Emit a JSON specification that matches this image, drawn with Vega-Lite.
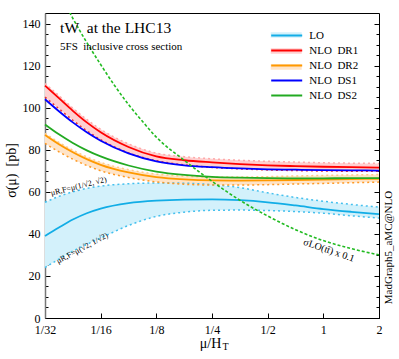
{
  "$schema": "https://vega.github.io/schema/vega-lite/v6.json",
  "width": 334,
  "height": 305,
  "autosize": "none",
  "padding": {"left": 45, "top": 13, "right": 20, "bottom": 41},
  "background": "white",
  "config": {
    "view": {"stroke": "black", "strokeWidth": 1},
    "font": "Liberation Serif",
    "axis": {"labelFont": "Liberation Serif", "titleFont": "Liberation Serif", "titleFontWeight": "normal", "labelColor": "black", "titleColor": "black", "tickColor": "black", "grid": false}
  },
  "datasets": {
    "lines": [
      {"m": 0.03125, "s": "LO", "v": 39}, {"m": 0.03716, "s": "LO", "v": 43}, {"m": 0.04419, "s": "LO", "v": 46.8}, {"m": 0.05256, "s": "LO", "v": 49.8}, {"m": 0.0625, "s": "LO", "v": 52}, {"m": 0.08839, "s": "LO", "v": 54.6}, {"m": 0.125, "s": "LO", "v": 55.8}, {"m": 0.17678, "s": "LO", "v": 56.3}, {"m": 0.25, "s": "LO", "v": 56.4}, {"m": 0.35355, "s": "LO", "v": 56}, {"m": 0.5, "s": "LO", "v": 55}, {"m": 0.70711, "s": "LO", "v": 53.5}, {"m": 1, "s": "LO", "v": 51.8}, {"m": 1.41421, "s": "LO", "v": 50.5}, {"m": 2, "s": "LO", "v": 49.4},
      {"m": 0.03125, "s": "NLO\u00a0 DR1", "v": 110.5}, {"m": 0.03716, "s": "NLO\u00a0 DR1", "v": 104.5}, {"m": 0.04419, "s": "NLO\u00a0 DR1", "v": 98.5}, {"m": 0.05256, "s": "NLO\u00a0 DR1", "v": 93}, {"m": 0.0625, "s": "NLO\u00a0 DR1", "v": 88.3}, {"m": 0.08839, "s": "NLO\u00a0 DR1", "v": 81.3}, {"m": 0.125, "s": "NLO\u00a0 DR1", "v": 76.8}, {"m": 0.17678, "s": "NLO\u00a0 DR1", "v": 75}, {"m": 0.25, "s": "NLO\u00a0 DR1", "v": 74}, {"m": 0.35355, "s": "NLO\u00a0 DR1", "v": 73.2}, {"m": 0.5, "s": "NLO\u00a0 DR1", "v": 72.6}, {"m": 0.70711, "s": "NLO\u00a0 DR1", "v": 72.2}, {"m": 1, "s": "NLO\u00a0 DR1", "v": 71.9}, {"m": 1.41421, "s": "NLO\u00a0 DR1", "v": 71.7}, {"m": 2, "s": "NLO\u00a0 DR1", "v": 71.5},
      {"m": 0.03125, "s": "NLO\u00a0 DR2", "v": 87}, {"m": 0.03716, "s": "NLO\u00a0 DR2", "v": 82.6}, {"m": 0.04419, "s": "NLO\u00a0 DR2", "v": 78.8}, {"m": 0.05256, "s": "NLO\u00a0 DR2", "v": 75.5}, {"m": 0.0625, "s": "NLO\u00a0 DR2", "v": 72.8}, {"m": 0.08839, "s": "NLO\u00a0 DR2", "v": 69.2}, {"m": 0.125, "s": "NLO\u00a0 DR2", "v": 67}, {"m": 0.17678, "s": "NLO\u00a0 DR2", "v": 65.9}, {"m": 0.25, "s": "NLO\u00a0 DR2", "v": 65.4}, {"m": 0.35355, "s": "NLO\u00a0 DR2", "v": 65.3}, {"m": 0.5, "s": "NLO\u00a0 DR2", "v": 65.4}, {"m": 0.70711, "s": "NLO\u00a0 DR2", "v": 65.6}, {"m": 1, "s": "NLO\u00a0 DR2", "v": 65.8}, {"m": 1.41421, "s": "NLO\u00a0 DR2", "v": 66}, {"m": 2, "s": "NLO\u00a0 DR2", "v": 66.2},
      {"m": 0.03125, "s": "NLO\u00a0 DS1", "v": 104}, {"m": 0.03716, "s": "NLO\u00a0 DS1", "v": 98.3}, {"m": 0.04419, "s": "NLO\u00a0 DS1", "v": 93}, {"m": 0.05256, "s": "NLO\u00a0 DS1", "v": 88.3}, {"m": 0.0625, "s": "NLO\u00a0 DS1", "v": 84.3}, {"m": 0.08839, "s": "NLO\u00a0 DS1", "v": 78.3}, {"m": 0.125, "s": "NLO\u00a0 DS1", "v": 74.5}, {"m": 0.17678, "s": "NLO\u00a0 DS1", "v": 72.6}, {"m": 0.25, "s": "NLO\u00a0 DS1", "v": 71.7}, {"m": 0.35355, "s": "NLO\u00a0 DS1", "v": 71.1}, {"m": 0.5, "s": "NLO\u00a0 DS1", "v": 70.7}, {"m": 0.70711, "s": "NLO\u00a0 DS1", "v": 70.5}, {"m": 1, "s": "NLO\u00a0 DS1", "v": 70.3}, {"m": 1.41421, "s": "NLO\u00a0 DS1", "v": 70.2}, {"m": 2, "s": "NLO\u00a0 DS1", "v": 70.1},
      {"m": 0.03125, "s": "NLO\u00a0 DS2", "v": 92}, {"m": 0.03716, "s": "NLO\u00a0 DS2", "v": 87.3}, {"m": 0.04419, "s": "NLO\u00a0 DS2", "v": 83.2}, {"m": 0.05256, "s": "NLO\u00a0 DS2", "v": 79.7}, {"m": 0.0625, "s": "NLO\u00a0 DS2", "v": 76.8}, {"m": 0.08839, "s": "NLO\u00a0 DS2", "v": 72.5}, {"m": 0.125, "s": "NLO\u00a0 DS2", "v": 69.6}, {"m": 0.17678, "s": "NLO\u00a0 DS2", "v": 68}, {"m": 0.25, "s": "NLO\u00a0 DS2", "v": 67.1}, {"m": 0.35355, "s": "NLO\u00a0 DS2", "v": 66.7}, {"m": 0.5, "s": "NLO\u00a0 DS2", "v": 66.5}, {"m": 0.70711, "s": "NLO\u00a0 DS2", "v": 66.4}, {"m": 1, "s": "NLO\u00a0 DS2", "v": 66.4}, {"m": 1.41421, "s": "NLO\u00a0 DS2", "v": 66.5}, {"m": 2, "s": "NLO\u00a0 DS2", "v": 66.5}
    ],
    "bands": [
      {"m": 0.03125, "s": "LO", "lo": 24, "hi": 55}, {"m": 0.03716, "s": "LO", "lo": 28, "hi": 57.8}, {"m": 0.04419, "s": "LO", "lo": 31.8, "hi": 60}, {"m": 0.05256, "s": "LO", "lo": 35, "hi": 61.6}, {"m": 0.0625, "s": "LO", "lo": 38, "hi": 62.7}, {"m": 0.08839, "s": "LO", "lo": 44, "hi": 63.8}, {"m": 0.125, "s": "LO", "lo": 48.3, "hi": 64.2}, {"m": 0.17678, "s": "LO", "lo": 50.3, "hi": 64.1}, {"m": 0.25, "s": "LO", "lo": 51.2, "hi": 63.4}, {"m": 0.35355, "s": "LO", "lo": 51.3, "hi": 62}, {"m": 0.5, "s": "LO", "lo": 51.1, "hi": 59.5}, {"m": 0.70711, "s": "LO", "lo": 50.6, "hi": 57.3}, {"m": 1, "s": "LO", "lo": 49.8, "hi": 55.5}, {"m": 1.41421, "s": "LO", "lo": 48.6, "hi": 54}, {"m": 2, "s": "LO", "lo": 47.5, "hi": 52.7},
      {"m": 0.03125, "s": "NLO\u00a0 DR1", "lo": 105, "hi": 111.5}, {"m": 0.03716, "s": "NLO\u00a0 DR1", "lo": 99.5, "hi": 105.7}, {"m": 0.04419, "s": "NLO\u00a0 DR1", "lo": 94, "hi": 99.8}, {"m": 0.05256, "s": "NLO\u00a0 DR1", "lo": 89, "hi": 94.4}, {"m": 0.0625, "s": "NLO\u00a0 DR1", "lo": 84.8, "hi": 89.7}, {"m": 0.08839, "s": "NLO\u00a0 DR1", "lo": 78.5, "hi": 82.8}, {"m": 0.125, "s": "NLO\u00a0 DR1", "lo": 74.8, "hi": 78.4}, {"m": 0.17678, "s": "NLO\u00a0 DR1", "lo": 72.8, "hi": 76.7}, {"m": 0.25, "s": "NLO\u00a0 DR1", "lo": 71.6, "hi": 75.7}, {"m": 0.35355, "s": "NLO\u00a0 DR1", "lo": 70.9, "hi": 75}, {"m": 0.5, "s": "NLO\u00a0 DR1", "lo": 70.4, "hi": 74.5}, {"m": 0.70711, "s": "NLO\u00a0 DR1", "lo": 70.1, "hi": 74.1}, {"m": 1, "s": "NLO\u00a0 DR1", "lo": 69.9, "hi": 73.8}, {"m": 1.41421, "s": "NLO\u00a0 DR1", "lo": 69.8, "hi": 73.6}, {"m": 2, "s": "NLO\u00a0 DR1", "lo": 69.8, "hi": 73.5},
      {"m": 0.03125, "s": "NLO\u00a0 DR2", "lo": 83, "hi": 87.8}, {"m": 0.03716, "s": "NLO\u00a0 DR2", "lo": 79, "hi": 83.5}, {"m": 0.04419, "s": "NLO\u00a0 DR2", "lo": 75.5, "hi": 79.8}, {"m": 0.05256, "s": "NLO\u00a0 DR2", "lo": 72.5, "hi": 76.6}, {"m": 0.0625, "s": "NLO\u00a0 DR2", "lo": 70, "hi": 74}, {"m": 0.08839, "s": "NLO\u00a0 DR2", "lo": 66.8, "hi": 70.5}, {"m": 0.125, "s": "NLO\u00a0 DR2", "lo": 64.7, "hi": 68.4}, {"m": 0.17678, "s": "NLO\u00a0 DR2", "lo": 63.6, "hi": 67.4}, {"m": 0.25, "s": "NLO\u00a0 DR2", "lo": 63.2, "hi": 67}, {"m": 0.35355, "s": "NLO\u00a0 DR2", "lo": 63.2, "hi": 67}, {"m": 0.5, "s": "NLO\u00a0 DR2", "lo": 63.4, "hi": 67.2}, {"m": 0.70711, "s": "NLO\u00a0 DR2", "lo": 63.7, "hi": 67.5}, {"m": 1, "s": "NLO\u00a0 DR2", "lo": 64, "hi": 67.8}, {"m": 1.41421, "s": "NLO\u00a0 DR2", "lo": 64.3, "hi": 68}, {"m": 2, "s": "NLO\u00a0 DR2", "lo": 64.6, "hi": 68.2}
    ],
    "tt": [
      {"m": 0.04123, "v": 147.5}, {"m": 0.04419, "v": 142.5}, {"m": 0.05256, "v": 131}, {"m": 0.0625, "v": 120.5}, {"m": 0.07433, "v": 110.5}, {"m": 0.08839, "v": 101.5}, {"m": 0.10511, "v": 93.5}, {"m": 0.125, "v": 86}, {"m": 0.17678, "v": 75}, {"m": 0.25, "v": 65}, {"m": 0.35355, "v": 56}, {"m": 0.5, "v": 48.5}, {"m": 0.70711, "v": 42}, {"m": 1, "v": 36.8}, {"m": 1.41421, "v": 33}, {"m": 2, "v": 30}
    ]
  },
  "resolve": {"axis": {"y": "independent"}},
  "layer": [
    {
      "data": {"name": "bands"},
      "mark": {"type": "area", "interpolate": "monotone"},
      "encoding": {
        "x": {
          "field": "m", "type": "quantitative",
          "scale": {"type": "log", "base": 2, "domain": [0.03125, 2], "nice": false},
          "axis": {
            "values": [0.03125, 0.0625, 0.125, 0.25, 0.5, 1, 2],
            "labelExpr": "datum.value < 1 ? '1/' + round(1/datum.value) : '' + round(datum.value)",
            "tickSize": -5, "labelPadding": 11, "labelFontSize": 12, "labelFlush": false,
            "domainColor": "black",
            "title": "μ/H", "titleFontSize": 14, "titleX": 165, "titleY": 29, "titleBaseline": "alphabetic", "titleAlign": "center"
          }
        },
        "y": {
          "field": "lo", "type": "quantitative",
          "scale": {"domain": [0, 145], "nice": false, "zero": false},
          "axis": {
            "values": [0, 5, 10, 15, 20, 25, 30, 35, 40, 45, 50, 55, 60, 65, 70, 75, 80, 85, 90, 95, 100, 105, 110, 115, 120, 125, 130, 135, 140],
            "labelExpr": "datum.value % 20 == 0 ? datum.label : ''",
            "tickSize": {"condition": {"test": "datum.value % 20 == 0", "value": -5}, "value": -3},
            "labelPadding": 10, "labelFontSize": 12,
            "domainColor": "#777777", "domainWidth": 1.5,
            "title": "σ(μ)\u00a0 [pb]", "titleFontSize": 14, "titleX": -34, "titleY": 157, "titleAlign": "center", "titleBaseline": "middle"
          }
        },
        "y2": {"field": "hi"},
        "fill": {
          "field": "s", "type": "nominal",
          "scale": {
            "domain": ["LO", "NLO\u00a0 DR1", "NLO\u00a0 DR2", "NLO\u00a0 DS1", "NLO\u00a0 DS2", "zz"],
            "range": ["#d3f1fb", "#ffd0d0", "#ffe4c8", "rgba(0,0,0,0)", "rgba(0,0,0,0)", "rgba(0,0,0,0)"]
          },
          "legend": {
            "values": ["LO", "NLO\u00a0 DR1", "NLO\u00a0 DR2", "NLO\u00a0 DS1", "NLO\u00a0 DS2"],
            "orient": "none", "legendX": 235.7, "legendY": 16.5, "title": null, "padding": 0,
            "symbolType": "M-3.1,-0.55H3.1V0.55H-3.1Z", "symbolSize": 100, "symbolStrokeWidth": 0,
            "labelColor": "rgba(0,0,0,0)", "labelFontSize": 11, "labelOffset": 16.6, "rowPadding": 4
          }
        }
      }
    },
    {
      "data": {"name": "bands"},
      "transform": [{"filter": "datum.s == 'LO'"}],
      "mark": {"type": "line", "interpolate": "monotone", "strokeDash": [2, 3], "strokeWidth": 1.5, "color": "#45c0ee"},
      "encoding": {"x": {"field": "m", "type": "quantitative"}, "y": {"field": "hi", "type": "quantitative", "axis": null}}
    },
    {
      "data": {"name": "bands"},
      "transform": [{"filter": "datum.s == 'LO'"}],
      "mark": {"type": "line", "interpolate": "monotone", "strokeDash": [2, 3], "strokeWidth": 1.5, "color": "#45c0ee"},
      "encoding": {"x": {"field": "m", "type": "quantitative"}, "y": {"field": "lo", "type": "quantitative", "axis": null}}
    },
    {
      "data": {"name": "bands"},
      "transform": [{"filter": "datum.s == 'NLO\u00a0 DR1'"}],
      "mark": {"type": "line", "interpolate": "monotone", "strokeDash": [2, 3], "strokeWidth": 1.5, "color": "#ffaaaa"},
      "encoding": {"x": {"field": "m", "type": "quantitative"}, "y": {"field": "hi", "type": "quantitative", "axis": null}}
    },
    {
      "data": {"name": "bands"},
      "transform": [{"filter": "datum.s == 'NLO\u00a0 DR1'"}],
      "mark": {"type": "line", "interpolate": "monotone", "strokeDash": [2, 3], "strokeWidth": 1.5, "color": "#ee3333"},
      "encoding": {"x": {"field": "m", "type": "quantitative"}, "y": {"field": "lo", "type": "quantitative", "axis": null}}
    },
    {
      "data": {"name": "bands"},
      "transform": [{"filter": "datum.s == 'NLO\u00a0 DR2'"}],
      "mark": {"type": "line", "interpolate": "monotone", "strokeDash": [2, 3], "strokeWidth": 1.5, "color": "#ffcc88"},
      "encoding": {"x": {"field": "m", "type": "quantitative"}, "y": {"field": "hi", "type": "quantitative", "axis": null}}
    },
    {
      "data": {"name": "bands"},
      "transform": [{"filter": "datum.s == 'NLO\u00a0 DR2'"}],
      "mark": {"type": "line", "interpolate": "monotone", "strokeDash": [2, 3], "strokeWidth": 1.5, "color": "#ff9922"},
      "encoding": {"x": {"field": "m", "type": "quantitative"}, "y": {"field": "lo", "type": "quantitative", "axis": null}}
    },
    {
      "data": {"name": "lines"},
      "mark": {"type": "line", "interpolate": "monotone", "strokeWidth": 1.8},
      "encoding": {
        "x": {"field": "m", "type": "quantitative"},
        "y": {"field": "v", "type": "quantitative", "axis": null},
        "stroke": {
          "field": "s", "type": "nominal",
          "scale": {
            "domain": ["LO", "NLO\u00a0 DR1", "NLO\u00a0 DR2", "NLO\u00a0 DS1", "NLO\u00a0 DS2"],
            "range": ["#12ade6", "#ff0000", "#ff9900", "#0000ff", "#22aa22"]
          },
          "legend": {
            "orient": "none", "legendX": 235.7, "legendY": 16.5, "title": null, "padding": 0,
            "symbolType": "M-3.1,0H3.1", "symbolSize": 100, "symbolStrokeWidth": 2,
            "labelFont": "Liberation Serif", "labelColor": "black", "labelFontSize": 11, "labelOffset": 16.6, "rowPadding": 4
          }
        }
      }
    },
    {
      "data": {"name": "tt"},
      "mark": {"type": "line", "interpolate": "monotone", "strokeDash": [3, 2], "strokeWidth": 1.6, "color": "#22bb22", "clip": true},
      "encoding": {
        "x": {"field": "m", "type": "quantitative"},
        "y": {
          "field": "v", "type": "quantitative",
          "axis": {
            "orient": "right",
            "values": [0, 5, 10, 15, 20, 25, 30, 35, 40, 45, 50, 55, 60, 65, 70, 75, 80, 85, 90, 95, 100, 105, 110, 115, 120, 125, 130, 135, 140],
            "labels": false, "domain": false,
            "tickSize": {"condition": {"test": "datum.value % 20 == 0", "value": -5}, "value": -3},
            "title": "MadGraph5_aMC@NLO", "titleFontSize": 11, "titleAngle": 270, "titleX": 9, "titleY": 234, "titleAlign": "center", "titleBaseline": "middle"
          }
        }
      }
    },
    {
      "data": {"values": [{"m": 0.0377, "v": 135.5, "t": "tW\u00a0 at the LHC13"}]},
      "mark": {"type": "text", "align": "left", "baseline": "alphabetic", "fontSize": 15.5, "font": "Liberation Serif", "color": "black"},
      "encoding": {"x": {"field": "m", "type": "quantitative"}, "y": {"field": "v", "type": "quantitative", "axis": null}, "text": {"field": "t"}}
    },
    {
      "data": {"values": [{"m": 0.0377, "v": 127.4, "t": "5FS\u00a0 inclusive cross section"}]},
      "mark": {"type": "text", "align": "left", "baseline": "alphabetic", "fontSize": 11, "font": "Liberation Serif", "color": "black"},
      "encoding": {"x": {"field": "m", "type": "quantitative"}, "y": {"field": "v", "type": "quantitative", "axis": null}, "text": {"field": "t"}}
    },
    {
      "data": {"values": [{"m": 0.0341, "v": 57.3, "t": "μR,F=μ(1/√2, √2)"}]},
      "mark": {"type": "text", "align": "left", "baseline": "bottom", "fontSize": 8, "font": "Liberation Serif", "color": "black", "angle": -14},
      "encoding": {"x": {"field": "m", "type": "quantitative"}, "y": {"field": "v", "type": "quantitative", "axis": null}, "text": {"field": "t"}}
    },
    {
      "data": {"values": [{"m": 0.0364, "v": 26.6, "t": "μR,F=μ(√2, 1/√2)"}]},
      "mark": {"type": "text", "align": "left", "baseline": "middle", "fontSize": 8, "font": "Liberation Serif", "color": "black", "angle": -28},
      "encoding": {"x": {"field": "m", "type": "quantitative"}, "y": {"field": "v", "type": "quantitative", "axis": null}, "text": {"field": "t"}}
    },
    {
      "data": {"values": [{"m": 0.784, "v": 36.3, "t": "σLO(tt̄) x 0.1"}]},
      "mark": {"type": "text", "align": "left", "baseline": "middle", "fontSize": 10, "font": "Liberation Serif", "color": "black", "angle": 19},
      "encoding": {"x": {"field": "m", "type": "quantitative"}, "y": {"field": "v", "type": "quantitative", "axis": null}, "text": {"field": "t"}}
    },
    {
      "data": {"values": [{"m": 0.2852, "v": -15.2, "t": "T"}]},
      "mark": {"type": "text", "align": "left", "baseline": "alphabetic", "fontSize": 10, "font": "Liberation Serif", "color": "black"},
      "encoding": {"x": {"field": "m", "type": "quantitative"}, "y": {"field": "v", "type": "quantitative", "axis": null}, "text": {"field": "t"}}
    }
  ]
}
